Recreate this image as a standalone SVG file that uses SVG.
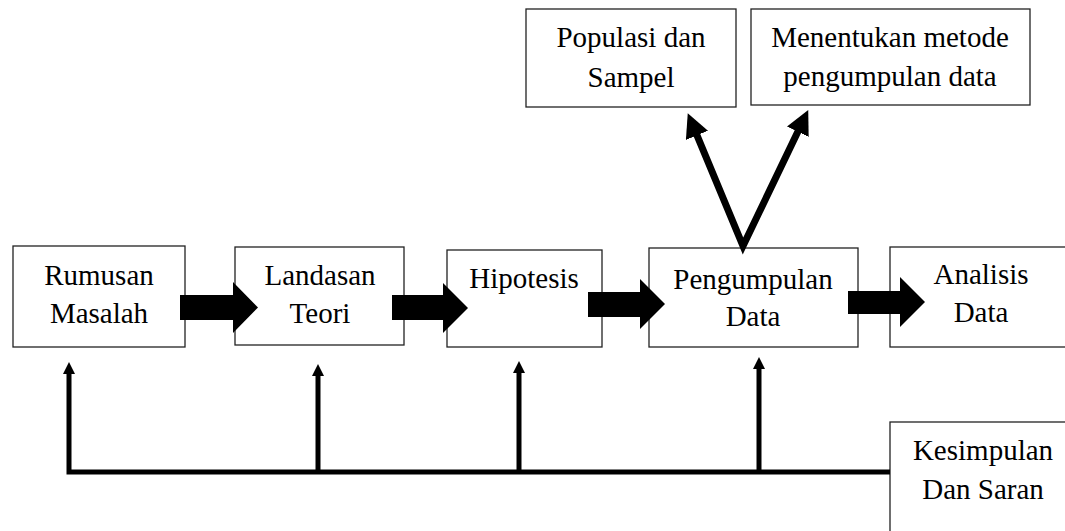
<svg xmlns="http://www.w3.org/2000/svg" width="1065" height="531" viewBox="0 0 1065 531">
  <style>
    .box { fill: #ffffff; stroke: #222222; stroke-width: 1.3; }
    .lbl { font-family: 'Liberation Serif', 'DejaVu Serif', serif; font-size: 29px; fill: #000000; text-anchor: middle; }
    .block { fill: #000000; stroke: none; }
    .thick { fill: none; stroke: #000000; stroke-width: 7; stroke-linejoin: miter; }
    .thin { fill: none; stroke: #000000; stroke-width: 5; stroke-linejoin: miter; stroke-linecap: butt; }
  </style>
  <defs>
    <marker id="bigHead" markerUnits="userSpaceOnUse" markerWidth="24" markerHeight="24" viewBox="0 0 24 24" refX="8" refY="12" orient="auto-start-reverse">
      <path d="M0,0 L24,12 L0,24 z" fill="#000000"/>
    </marker>
    <marker id="smallHead" markerUnits="userSpaceOnUse" markerWidth="12" markerHeight="12" viewBox="0 0 12 12" refX="4" refY="6" orient="auto">
      <path d="M0,0 L12,6 L0,12 z" fill="#000000"/>
    </marker>
  </defs>
  <rect width="1065" height="531" fill="#ffffff"/>

  <g id="node-rumusan">
    <rect class="box" x="13" y="246" width="172" height="101"/>
    <text class="lbl" font-family="Liberation Serif, serif" x="99" y="285">Rumusan</text>
    <text class="lbl" font-family="Liberation Serif, serif" x="99" y="323">Masalah</text>
  </g>
  <g id="node-landasan">
    <rect class="box" x="235" y="247" width="169" height="98"/>
    <text class="lbl" font-family="Liberation Serif, serif" x="320" y="285">Landasan</text>
    <text class="lbl" font-family="Liberation Serif, serif" x="320" y="323">Teori</text>
  </g>
  <g id="node-hipotesis">
    <rect class="box" x="447" y="250" width="155" height="97"/>
    <text class="lbl" font-family="Liberation Serif, serif" x="524" y="288">Hipotesis</text>
  </g>
  <g id="node-pengumpulan">
    <rect class="box" x="649" y="248" width="209" height="99"/>
    <text class="lbl" font-family="Liberation Serif, serif" x="753" y="289">Pengumpulan</text>
    <text class="lbl" font-family="Liberation Serif, serif" x="753" y="326">Data</text>
  </g>
  <g id="node-analisis">
    <rect class="box" x="890" y="247" width="180" height="100"/>
    <text class="lbl" font-family="Liberation Serif, serif" x="981" y="284">Analisis</text>
    <text class="lbl" font-family="Liberation Serif, serif" x="981" y="322">Data</text>
  </g>
  <g id="node-populasi">
    <rect class="box" x="526" y="9" width="210" height="98"/>
    <text class="lbl" font-family="Liberation Serif, serif" x="631" y="47">Populasi dan</text>
    <text class="lbl" font-family="Liberation Serif, serif" x="631" y="87">Sampel</text>
  </g>
  <g id="node-metode">
    <rect class="box" x="751" y="9" width="279" height="96"/>
    <text class="lbl" font-family="Liberation Serif, serif" x="890" y="47">Menentukan metode</text>
    <text class="lbl" font-family="Liberation Serif, serif" x="890" y="86">pengumpulan data</text>
  </g>
  <g id="node-kesimpulan">
    <rect class="box" x="890" y="422" width="180" height="120"/>
    <text class="lbl" font-family="Liberation Serif, serif" x="983" y="460">Kesimpulan</text>
    <text class="lbl" font-family="Liberation Serif, serif" x="983" y="499">Dan Saran</text>
  </g>

  <g id="connectors">
    <polygon class="block" points="180,295 233,295 233,282 258,307.5 233,333 233,320 180,320"/>
    <polygon class="block" points="392,295 443,295 443,283 468,308 443,333 443,320 392,320"/>
    <polygon class="block" points="588,292 640,292 640,279 665,304 640,329 640,317 588,317"/>
    <polygon class="block" points="848,291 900,291 900,277 925,302 900,327 900,314 848,314"/>

    <path class="thick" d="M693.9,127.9 L743,246 L801.3,124.5" marker-start="url(#bigHead)" marker-end="url(#bigHead)"/>

    <path class="thin" d="M890,472 L69,472 L69,370" marker-end="url(#smallHead)"/>
    <path class="thin" d="M318,472 L318,372" marker-end="url(#smallHead)"/>
    <path class="thin" d="M519,472 L519,369" marker-end="url(#smallHead)"/>
    <path class="thin" d="M759,472 L759,365" marker-end="url(#smallHead)"/>
  </g>
</svg>
